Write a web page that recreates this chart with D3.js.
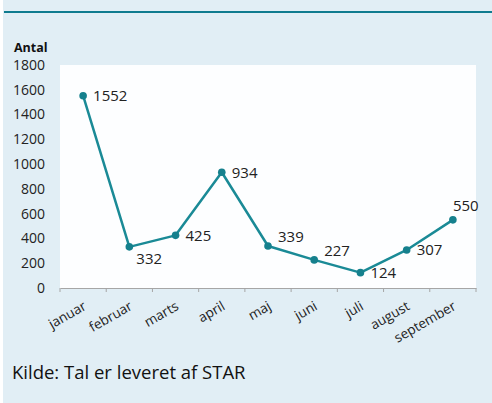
<!DOCTYPE html>
<html>
<head>
<meta charset="utf-8">
<script src="https://cdn.jsdelivr.net/npm/d3@7"></script>
<style>
  body { margin: 0; background: #fff; }
  svg { display: block; font-family: "Open Sans", sans-serif; }
</style>
</head>
<body>
<svg width="492" height="403"></svg>
<script>
// data
const months = ["januar", "februar", "marts", "april", "maj", "juni", "juli", "august", "september"];
const antal = [1552, 332, 425, 934, 339, 227, 124, 307, 550];
const yTicks = [0, 200, 400, 600, 800, 1000, 1200, 1400, 1600, 1800];
// where each value label sits relative to its point
const labelPos = ["right", "below", "right", "right", "above", "above", "right", "right", "top"];

const svg = d3.select("svg");

// background panel + top rule
svg.append("rect").attr("x", 3).attr("y", 0).attr("width", 489).attr("height", 403).attr("fill", "#e1eef5");
svg.append("rect").attr("x", 4).attr("y", 11).attr("width", 488).attr("height", 2).attr("fill", "#0f7b8f");

const pLeft = 60, pRight = 476, pTop = 65, pBottom = 288;

const x = d3.scaleBand().domain(months).range([pLeft, pRight]);
const y = d3.scaleLinear().domain([0, 1800]).range([pBottom, pTop]);

// plot area
svg.append("rect").attr("x", pLeft).attr("y", pTop).attr("width", pRight - pLeft).attr("height", pBottom - pTop).attr("fill", "#fdfeff");

// y axis labels (no line)
svg.append("g").selectAll("text")
  .data(yTicks)
  .enter().append("text")
  .attr("x", 45)
  .attr("y", d => y(d))
  .attr("dy", "0.35em")
  .attr("text-anchor", "end")
  .attr("font-size", 14)
  .attr("fill", "#222")
  .text(d => d);

svg.append("text")
  .attr("x", 14).attr("y", 52)
  .attr("font-size", 12.5).attr("font-weight", "bold").attr("fill", "#111")
  .text("Antal");

// x axis
const xAxis = svg.append("g")
  .attr("transform", `translate(0,${pBottom})`)
  .call(d3.axisBottom(x).tickSize(0).tickFormat(""));
xAxis.select(".domain").attr("stroke", "#a6a6a6");

// category boundary ticks
svg.append("g").selectAll("line")
  .data(months.concat([null]))
  .enter().append("line")
  .attr("x1", (d, i) => pLeft + i * x.step())
  .attr("x2", (d, i) => pLeft + i * x.step())
  .attr("y1", pBottom).attr("y2", pBottom + 4)
  .attr("stroke", "#a6a6a6");

svg.append("g").selectAll("text")
  .data(months)
  .enter().append("text")
  .attr("transform", d => `translate(${x(d) + x.bandwidth() / 2 - 1},${pBottom + 12}) rotate(-30)`)
  .attr("text-anchor", "end")
  .attr("dy", "0.75em")
  .attr("font-size", 13.5)
  .attr("fill", "#222")
  .text(d => d);

// line
const cx = d => x(d) + x.bandwidth() / 2;
const line = d3.line()
  .x((d, i) => cx(months[i]))
  .y(d => y(d));

svg.append("path")
  .datum(antal)
  .attr("d", line)
  .attr("fill", "none")
  .attr("stroke", "#1a8a96")
  .attr("stroke-width", 2.5)
  .attr("stroke-linejoin", "round");

svg.append("g").selectAll("circle")
  .data(antal)
  .enter().append("circle")
  .attr("cx", (d, i) => cx(months[i]))
  .attr("cy", d => y(d))
  .attr("r", 3.8)
  .attr("fill", "#15808d");

// value labels
svg.append("g").selectAll("text")
  .data(antal)
  .enter().append("text")
  .attr("x", (d, i) => {
    const p = labelPos[i];
    return cx(months[i]) + (p === "top" ? 0 : p === "below" ? 7 : 10);
  })
  .attr("y", (d, i) => {
    const p = labelPos[i];
    return y(d) + (p === "top" ? -14 : p === "below" ? 12 : p === "above" ? -9 : 0);
  })
  .attr("dy", "0.35em")
  .attr("text-anchor", "start")
  .attr("font-size", 15)
  .attr("fill", "#222")
  .text(d => d);

// source
svg.append("text")
  .attr("x", 12).attr("y", 379)
  .attr("font-size", 18.5)
  .attr("fill", "#111")
  .text("Kilde: Tal er leveret af STAR");
</script>
</body>
</html>
